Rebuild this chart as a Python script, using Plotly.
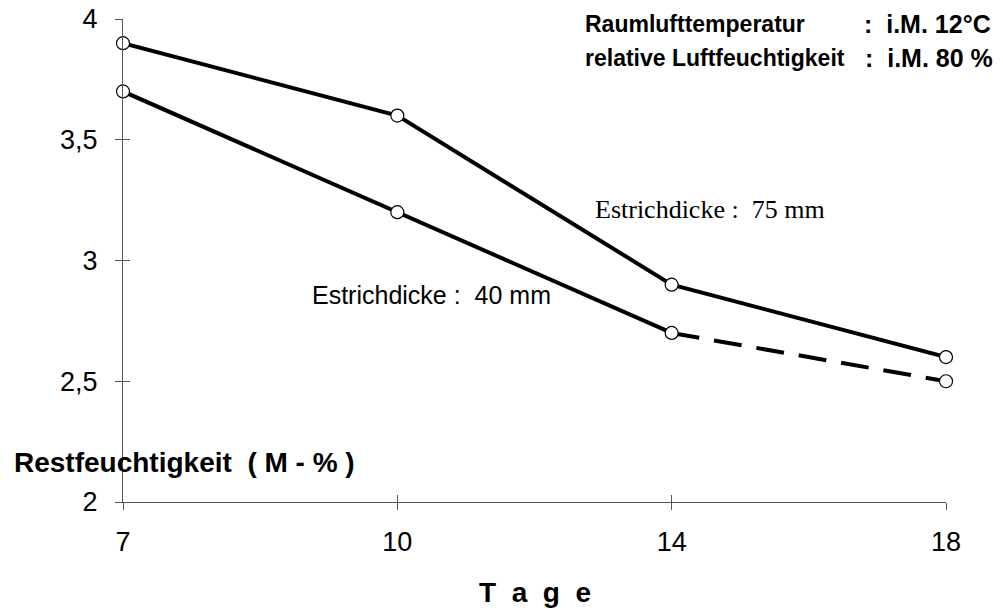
import plotly.graph_objects as go

tage = ["7", "10", "14", "18"]
estrich_75 = [3.9, 3.6, 2.9, 2.6]
estrich_40 = [3.7, 3.2, 2.7, 2.5]
y_ticks = [2, 2.5, 3, 3.5, 4]
y_ticktext = ["2", "2,5", "3", "3,5", "4"]

xi = list(range(len(tage)))
FONT = "Liberation Sans, Arial, sans-serif"
AXC = "#555555"

fig = go.Figure()

# upper series
fig.add_trace(go.Scatter(x=xi, y=estrich_75, mode="lines",
                         line=dict(color="black", width=4), cliponaxis=False,
                         showlegend=False))
# lower series: solid part then dashed last segment
fig.add_trace(go.Scatter(x=xi[:3], y=estrich_40[:3], mode="lines",
                         line=dict(color="black", width=4), cliponaxis=False,
                         showlegend=False))
fig.add_trace(go.Scatter(x=xi[2:], y=estrich_40[2:], mode="lines",
                         line=dict(color="black", width=4, dash="28px,15px"),
                         cliponaxis=False, showlegend=False))
# markers
for ys in (estrich_75, estrich_40):
    fig.add_trace(go.Scatter(x=xi, y=ys, mode="markers",
                             marker=dict(symbol="circle", size=13, color="white",
                                         line=dict(color="black", width=1.2)),
                             cliponaxis=False, showlegend=False))
# invisible trace for the overlay axes (inside half of crossing ticks)
fig.add_trace(go.Scatter(x=[0], y=[2], xaxis="x2", yaxis="y2", mode="markers",
                         marker=dict(opacity=0), showlegend=False, hoverinfo="skip"))

fig.update_layout(
    width=1003, height=614,
    margin=dict(l=123, r=57, t=19, b=112, autoexpand=False),
    paper_bgcolor="white", plot_bgcolor="white",
    font=dict(family=FONT, color="black"),
    xaxis=dict(range=[0, 3], tickvals=xi, ticktext=tage, showgrid=False,
               zeroline=False, showline=True, linecolor=AXC, linewidth=1,
               ticks="outside", ticklen=7, tickcolor=AXC, tickwidth=1,
               tickfont=dict(size=27, family=FONT, color="black"),
               ticklabelstandoff=9, automargin=False, ticklabeloverflow="allow"),
    yaxis=dict(range=[2, 4], tickvals=y_ticks, ticktext=y_ticktext, showgrid=False,
               zeroline=False, showline=True, linecolor=AXC, linewidth=1,
               ticks="outside", ticklen=7, tickcolor=AXC, tickwidth=1,
               tickfont=dict(size=27, family=FONT, color="black"),
               ticklabelstandoff=12, automargin=False, ticklabeloverflow="allow"),
    xaxis2=dict(range=[0, 3], tickvals=xi, overlaying="x", anchor="y2",
                showgrid=False, zeroline=False, showline=False,
                ticks="inside", ticklen=7, tickcolor=AXC, tickwidth=1,
                showticklabels=False, automargin=False),
    yaxis2=dict(range=[2, 4], tickvals=y_ticks, overlaying="y", anchor="x2",
                side="left", showgrid=False, zeroline=False, showline=False,
                ticks="inside", ticklen=7, tickcolor=AXC, tickwidth=1,
                showticklabels=False, automargin=False),
)

ann = [
    dict(text="<b>Restfeuchtigkeit  ( M - % )</b>", x=-0.1349, y=0.0828,
         xanchor="left", yanchor="middle", font=dict(size=28)),
    dict(text="<b>T  a  g  e</b>", x=0.5, y=-0.188, xanchor="center",
         yanchor="middle", font=dict(size=28)),
    dict(text="<b>Raumlufttemperatur</b>", x=0.5589, y=0.9896, xanchor="left",
         yanchor="middle", font=dict(size=23)),
    dict(text="<b>relative Luftfeuchtigkeit</b>", x=0.5589, y=0.919, xanchor="left",
         yanchor="middle", font=dict(size=23)),
    dict(text="<b>:  i.M. 12°C</b>", x=1.0571, y=0.9896, xanchor="right",
         yanchor="middle", font=dict(size=25)),
    dict(text="<b>:  i.M. 80 %</b>", x=1.0595, y=0.919, xanchor="right",
         yanchor="middle", font=dict(size=25)),
    dict(text="Estrichdicke :  75 mm", x=0.5711, y=0.6046, xanchor="left",
         yanchor="middle",
         font=dict(size=26, family="Liberation Serif, Times New Roman, serif")),
    dict(text="Estrichdicke :  40 mm", x=0.2272, y=0.4286, xanchor="left",
         yanchor="middle", font=dict(size=25)),
]
for a in ann:
    a.update(xref="paper", yref="paper", showarrow=False)
    a["font"].setdefault("family", FONT)
    a["font"].setdefault("color", "black")
    fig.add_annotation(**a)

fig.write_html("out.html", config={"displayModeBar": False},
               post_script="document.body.style.margin='0';")
